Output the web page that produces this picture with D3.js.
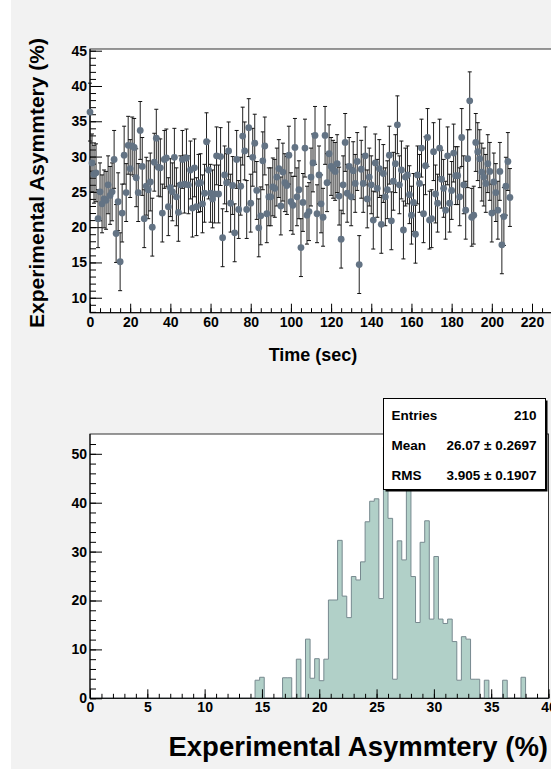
<!DOCTYPE html>
<html>
<head>
<meta charset="utf-8">
<script src="https://cdn.jsdelivr.net/npm/d3@7"></script>
<style>
  body { margin: 0; background: #ffffff; }
  svg { display: block; }
  text { font-family: "Liberation Sans", Arial, sans-serif; font-weight: bold; fill: #000; }
</style>
</head>
<body>
<svg width="551" height="769"></svg>
<script>

// asymmetry per second, t = 0..209
var asym = [
  36.3, 29.1, 27.5, 27.7, 21.2, 25.0, 23.3, 24.0, 23.8, 26.0,
  24.5, 25.0, 29.6, 19.1, 23.6, 15.1, 22.0, 30.2, 24.9, 31.6,
  28.3, 31.5, 31.3, 27.0, 24.9, 33.7, 28.6, 21.2, 25.8, 25.3,
  26.4, 20.0, 29.2, 32.6, 28.5, 28.4, 22.0, 29.6, 29.8, 22.9,
  25.6, 25.0, 29.9, 24.3, 22.1, 26.0, 29.6, 26.1, 29.8, 26.0,
  28.1, 22.7, 28.4, 22.9, 26.2, 26.3, 23.3, 24.8, 32.1, 28.1,
  24.8, 24.0, 24.7, 30.1, 24.7, 30.0, 18.5, 27.4, 26.3, 30.8,
  23.4, 25.9, 19.2, 29.6, 22.5, 25.8, 32.9, 30.8, 22.5, 34.1,
  23.4, 29.9, 31.9, 25.2, 19.9, 21.6, 29.4, 31.5, 21.9, 24.3,
  24.3, 25.7, 25.5, 27.1, 28.3, 23.0, 27.8, 26.3, 25.9, 30.2,
  23.6, 23.1, 31.3, 24.3, 25.3, 17.1, 23.5, 31.2, 21.7, 22.2,
  27.1, 29.1, 33.0, 21.9, 27.4, 23.3, 21.4, 33.0, 26.3, 30.4,
  28.6, 28.2, 27.9, 29.0, 24.4, 18.3, 26.0, 32.0, 24.8, 28.6,
  24.3, 28.0, 26.2, 29.3, 14.7, 28.2, 26.2, 30.1, 24.0, 27.1,
  26.0, 21.0, 29.1, 25.5, 28.3, 20.4, 27.6, 24.3, 25.3, 30.2,
  20.9, 26.5, 29.0, 34.5, 26.0, 28.1, 19.6, 27.1, 27.4, 24.6,
  21.7, 23.5, 19.0, 27.4, 26.2, 31.2, 21.9, 28.7, 32.7, 21.0,
  21.2, 30.7, 24.7, 23.4, 31.2, 26.8, 25.5, 22.4, 30.1, 23.4,
  25.2, 30.5, 27.3, 27.3, 24.3, 32.7, 26.0, 22.4, 29.7, 37.9,
  21.4, 21.7, 32.0, 30.7, 29.7, 27.8, 27.1, 26.2, 29.0, 27.9,
  22.0, 26.4, 24.9, 22.4, 27.9, 17.5, 21.5, 25.8, 29.3, 24.2
];
var asymErr = 4.1;

// histogram: lower edge of non-empty bins and their contents
var binWidth = 0.4;
var binLow = [14.4, 14.8, 16.8, 17.2, 18.0, 18.8, 19.2, 19.6, 20.0, 20.4,
              20.8, 21.2, 21.6, 22.0, 22.4, 22.8, 23.2, 23.6, 24.0, 24.4,
              24.8, 25.2, 25.6, 26.0, 26.4, 26.8, 27.2, 27.6, 28.0, 28.4,
              28.8, 29.2, 29.6, 30.0, 30.4, 30.8, 31.2, 31.6, 32.0, 32.4,
              32.8, 33.2, 33.6, 34.4, 36.0, 37.6];
var binCount = [3.7, 4.3, 4.2, 4.2, 8.0, 12.1, 4.1, 8.1, 3.6, 8.0,
                20.1, 20.1, 32.3, 20.9, 16.5, 24.9, 24.2, 27.9, 36.1, 40.3,
                40.8, 20.4, 51.4, 36.8, 3.9, 32.2, 28.3, 47.0, 24.9, 15.5,
                31.9, 36.3, 16.2, 29.0, 16.2, 15.3, 16.2, 11.6, 3.7, 12.6,
                12.1, 3.9, 3.9, 3.7, 3.7, 4.3];

var statNames = ["Entries", "Mean", "RMS"];
var statValues = ["210", "26.07 \u00b1 0.2697", "3.905 \u00b1 0.1907"];

var svg = d3.select('svg');

// pad background
svg.append('rect').attr('x', 11).attr('y', 0).attr('width', 540).attr('height', 769)
  .attr('fill', '#f2f2f2');

// ---------- top: asymmetry vs time ----------
var x1 = d3.scaleLinear().domain([0, 229.9]).range([90, 551.9]);
var y1 = d3.scaleLinear().domain([7.88, 45.24]).range([312.7, 49]);

var gTop = svg.append('g');
gTop.append('rect')
  .attr('x', x1(0)).attr('y', y1(45.24))
  .attr('width', x1(229.9) - x1(0)).attr('height', y1(7.88) - y1(45.24))
  .attr('fill', '#fff').attr('stroke', '#333').attr('stroke-width', 1);

function drawAxes(g, xs, ys, xMajor, xMinor, yMajor, yMinor) {
  var xb = ys.range()[0], yl = xs.range()[0];
  g.append('g').attr('transform', 'translate(0,' + xb + ')')
    .call(d3.axisBottom(xs).tickValues(xMinor).tickSize(-4.5).tickFormat(''));
  g.append('g').attr('transform', 'translate(0,' + xb + ')')
    .call(d3.axisBottom(xs).tickValues(xMajor).tickSize(-9).tickPadding(4).tickFormat(d3.format('d')));
  g.append('g').attr('transform', 'translate(' + yl + ',0)')
    .call(d3.axisLeft(ys).tickValues(yMinor).tickSize(-6).tickFormat(''));
  g.append('g').attr('transform', 'translate(' + yl + ',0)')
    .call(d3.axisLeft(ys).tickValues(yMajor).tickSize(-12).tickPadding(3).tickFormat(d3.format('d')));
  g.selectAll('.domain').remove();
  g.selectAll('.tick line').attr('stroke', '#000');
  g.selectAll('.tick text').attr('font-size', 14).attr('font-family', '"Liberation Sans", Arial, sans-serif');
  g.append('line').attr('x1', xs.range()[0]).attr('x2', xs.range()[1])
    .attr('y1', xb).attr('y2', xb).attr('stroke', '#000');
  g.append('line').attr('x1', yl).attr('x2', yl)
    .attr('y1', ys.range()[0]).attr('y2', ys.range()[1]).attr('stroke', '#000');
}

drawAxes(gTop, x1, y1,
  d3.range(0, 221, 20), d3.range(0, 229, 5),
  d3.range(10, 46, 5), d3.range(8, 46, 1));

gTop.append('g').selectAll('g').data(asym).enter().append('g')
  .each(function(d, i) {
    var g = d3.select(this);
    var cx = x1(i);
    g.append('line')
      .attr('x1', cx).attr('x2', cx)
      .attr('y1', y1(d - asymErr)).attr('y2', y1(d + asymErr))
      .attr('stroke', '#222').attr('stroke-width', 1);
    g.append('line')
      .attr('x1', cx - 2).attr('x2', cx + 2)
      .attr('y1', y1(d - asymErr)).attr('y2', y1(d - asymErr))
      .attr('stroke', '#111');
    g.append('line')
      .attr('x1', cx - 2).attr('x2', cx + 2)
      .attr('y1', y1(d + asymErr)).attr('y2', y1(d + asymErr))
      .attr('stroke', '#111');
  });

gTop.append('g').selectAll('circle').data(asym).enter().append('circle')
  .attr('cx', function(d, i) { return x1(i); })
  .attr('cy', function(d) { return y1(d); })
  .attr('r', 3.4)
  .attr('fill', '#637384');

gTop.append('text').attr('x', 313).attr('y', 361)
  .attr('text-anchor', 'middle').attr('font-size', 18)
  .text('Time (sec)');

gTop.append('text')
  .attr('transform', 'translate(44,183) rotate(-90)')
  .attr('text-anchor', 'middle').attr('font-size', 21)
  .text('Experimental Asymmtery (%)');

// ---------- bottom: histogram ----------
var x2 = d3.scaleLinear().domain([0, 40]).range([90, 548.5]);
var y2 = d3.scaleLinear().domain([0, 54.05]).range([698.3, 434]);

var gBot = svg.append('g');
gBot.append('rect')
  .attr('x', x2(0)).attr('y', y2(54.05))
  .attr('width', x2(40) - x2(0)).attr('height', y2(0) - y2(54.05))
  .attr('fill', '#fff').attr('stroke', '#333').attr('stroke-width', 1);

var nBins = 100;
var counts = d3.range(nBins).map(function() { return 0; });
binLow.forEach(function(lo, k) {
  counts[Math.round(lo / binWidth)] = binCount[k];
});
var steps = [];
counts.forEach(function(c, i) {
  steps.push([i * binWidth, c]);
  steps.push([(i + 1) * binWidth, c]);
});

gBot.append('path')
  .datum(steps)
  .attr('d', d3.area().x(function(d) { return x2(d[0]); }).y0(y2(0)).y1(function(d) { return y2(d[1]); }))
  .attr('fill', '#b1d0c8');
gBot.append('path')
  .datum(steps)
  .attr('d', d3.line().x(function(d) { return x2(d[0]); }).y(function(d) { return y2(d[1]); }))
  .attr('fill', 'none').attr('stroke', '#77898f').attr('stroke-width', 1);

drawAxes(gBot, x2, y2,
  d3.range(0, 41, 5), d3.range(0, 41, 1),
  d3.range(0, 51, 10), d3.range(0, 54, 2));

gBot.append('text').attr('x', 548).attr('y', 756)
  .attr('text-anchor', 'end').attr('font-size', 27.5)
  .text('Experimental Asymmtery (%)');

// stats box
var box = svg.append('g').attr('transform', 'translate(383.5,398.5)');
box.append('rect').attr('x', 2).attr('y', 2).attr('width', 162).attr('height', 91).attr('fill', '#000');
box.append('rect').attr('width', 162).attr('height', 91)
  .attr('fill', '#fff').attr('stroke', '#000').attr('stroke-width', 1);
box.selectAll('text.nm').data(statNames).enter().append('text')
  .attr('class', 'nm')
  .attr('x', 8).attr('y', function(d, i) { return 21.5 + i * 30; })
  .attr('font-size', 13.5)
  .text(function(d) { return d; });
box.selectAll('text.vl').data(statValues).enter().append('text')
  .attr('class', 'vl')
  .attr('x', 153).attr('y', function(d, i) { return 21.5 + i * 30; })
  .attr('text-anchor', 'end').attr('font-size', 13.5)
  .text(function(d) { return d; });

</script>
</body>
</html>
